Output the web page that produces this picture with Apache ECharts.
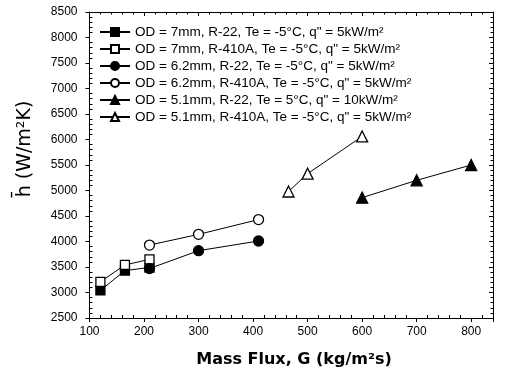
<!DOCTYPE html>
<html><head><meta charset="utf-8">
<script src="https://cdn.jsdelivr.net/npm/echarts@6/dist/echarts.min.js"></script>
<style>html,body{margin:0;padding:0;background:#fff}#c{width:506px;height:371px}</style>
</head><body><div id="c"></div>
<script>
var x7 = [120, 165, 210];
var h7R22 = [3040, 3430, 3490];
var h7R410A = [3210, 3540, 3650];
var x62 = [210, 300, 410];
var h62R22 = [3470, 3820, 4010];
var h62R410A = [3930, 4140, 4430];
var x51R22 = [600, 700, 800];
var h51R22 = [4860, 5200, 5500];
var x51R410A = [465, 500, 600];
var h51R410A = [4980, 5330, 6060];
var names = [
  'OD = 7mm, R-22, Te = -5°C, q" = 5kW/m²',
  'OD = 7mm, R-410A, Te = -5°C, q" = 5kW/m²',
  'OD = 6.2mm, R-22, Te = -5°C, q" = 5kW/m²',
  'OD = 6.2mm, R-410A, Te = -5°C, q" = 5kW/m²',
  'OD = 5.1mm, R-22, Te = 5°C, q" = 10kW/m²',
  'OD = 5.1mm, R-410A, Te = -5°C, q" = 5kW/m²'
];
var xTicks = [100, 200, 300, 400, 500, 600, 700, 800];
var yTicks = [2500, 3000, 3500, 4000, 4500, 5000, 5500, 6000, 6500, 7000, 7500, 8000, 8500];
var xTitle = 'Mass Flux, G (kg/m²s)';
var yTitle = 'h\u0304 (W/m²K)';

function pairs(xs, ys){ return xs.map(function(x,i){return [x, ys[i]];}); }
function mk(name, xs, ys, symbol, filled, size){
  return {
    name: name, type: 'line', xAxisIndex: 0, yAxisIndex: 0,
    data: pairs(xs, ys), symbol: symbol, symbolSize: size, showSymbol: true,
    lineStyle: {color: '#000', width: 1},
    itemStyle: {color: filled ? '#000' : '#fff', borderColor: '#000', borderWidth: 1.3, opacity: 1},
    emphasis: {disabled: true}, animation: false
  };
}
var font = 'Liberation Sans, Arial, sans-serif';
function axisBase(isX, outer){
  return {
    type: 'value',
    min: isX ? 100 : 2500, max: isX ? 840 : 8500, interval: isX ? 100 : 500,
    axisLine: {show: true, lineStyle: {color: '#000', width: 1}},
    axisTick: {show: true, inside: !outer, length: 4, lineStyle: {color: '#000'}},
    minorTick: {show: true, splitNumber: 5, length: outer ? -3 : 2.5, lineStyle: {color: '#000'}},
    splitLine: {show: false}, minorSplitLine: {show: false}
  };
}
var chart = echarts.init(document.getElementById('c'), null, {renderer: 'canvas'});
chart.setOption({
  animation: false,
  backgroundColor: '#fff',
  grid: {left: 89.5, right: 13, top: 12, bottom: 53},
  legend: {
    orient: 'vertical', left: 94, top: 20, itemWidth: 30, itemHeight: 10, itemGap: 3,
    data: names,
    textStyle: {fontFamily: font, fontSize: 13.5, color: '#000', lineHeight: 14},
    inactiveColor: '#000'
  },
  graphic: [
    {type: 'text', x: 294, y: 352,
      style: {text: xTitle, font: 'bold 16px "DejaVu Sans"', fill: '#000', align: 'center', verticalAlign: 'top'}},
    {type: 'text', x: 25, y: 149, rotation: Math.PI / 2,
      style: {text: yTitle, font: '19px "DejaVu Sans"', fill: '#000', align: 'center', verticalAlign: 'middle'}}
  ],
  xAxis: [
    Object.assign(axisBase(true, true), {position: 'bottom',
      axisLabel: {show: true, color: '#000', fontFamily: font, fontSize: 12, margin: 8,
        showMaxLabel: false,
        formatter: function(v){ return xTicks.indexOf(v) >= 0 ? String(v) : ''; }}}),
    Object.assign(axisBase(true, false), {position: 'top', axisLabel: {show: false}})
  ],
  yAxis: [
    Object.assign(axisBase(false, true), {position: 'left',
      axisLabel: {show: true, color: '#000', fontFamily: font, fontSize: 12, margin: 12,
        formatter: function(v){ return yTicks.indexOf(v) >= 0 ? String(v) : ''; }}}),
    Object.assign(axisBase(false, false), {position: 'right', axisLabel: {show: false}})
  ],
  series: [
    mk(names[0], x7, h7R22, 'rect', true, 9),
    mk(names[1], x7, h7R410A, 'rect', false, 9),
    mk(names[2], x62, h62R22, 'circle', true, 10),
    mk(names[3], x62, h62R410A, 'circle', false, 10),
    mk(names[4], x51R22, h51R22, 'triangle', true, 11),
    mk(names[5], x51R410A, h51R410A, 'triangle', false, 11)
  ]
});
</script>
</body></html>
